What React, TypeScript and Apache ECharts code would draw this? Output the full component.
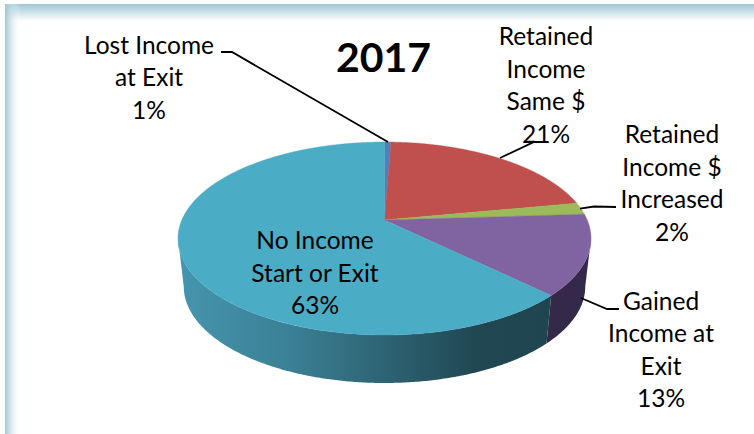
import React, { useEffect, useRef } from "react";
import * as echarts from "echarts";

const names = ["Lost Income\nat Exit", "Retained\nIncome\nSame $", "Retained\nIncome $\nIncreased", "Gained\nIncome at\nExit", "No Income\nStart or Exit"];
const values = [0.6, 21.4, 2, 13.4, 62.6];
const percentLabels = ["1%", "21%", "2%", "13%", "63%"];
const topColors = ["#4F81BD", "#C0504D", "#9BBB59", "#8064A2", "#4BACC6"];
const titleText = "2017";

// label anchors (centre x, first-line centre y) and leader polylines
const labelAnchors = [[149, 44], [546, 35.5], [672, 133.5], [661, 300], [315, 239.5]];
const leaders = [
  [[221, 52], [232, 52], [388, 142]],
  [[548, 142], [534, 142], [500, 158]],
  [[616, 207], [594, 206.5], [580, 208.6]],
  [[619, 309], [607, 309], [581, 298]],
];

const HUB_X = 384.5, HUB_Y = 220, K = 0.1917, A = 202.7, B = 92.95;
const DEPTH = 48, SHRINK = 0.972;
const LINE_H = 32.5;

const project = (deg: number) => {
  const t = (deg * Math.PI) / 180;
  const u = Math.sin(t), v = Math.cos(t);
  const d = 1 + K * v;
  return [HUB_X + (A * u) / d, HUB_Y - (B * v) / d];
};
const lower = (p: number[]) => [HUB_X + (p[0] - HUB_X) * SHRINK, p[1] + DEPTH];
const arc = (a: number, b: number) => {
  const pts: number[][] = [];
  const n = Math.max(2, Math.ceil(Math.abs(b - a) * 2));
  for (let i = 0; i <= n; i++) pts.push(project(a + ((b - a) * i) / n));
  return pts;
};

const total = values.reduce((s, v) => s + v, 0);
let acc = 0;
const spans = values.map((v) => {
  const s = (acc / total) * 360;
  acc += v;
  return [s, (acc / total) * 360];
});

const WALL_FROM = 101, WALL_TO = 259;
const wallFill: Record<number, any> = {
  3: "#35294A",
  4: {
    type: "linear", x: 0, y: 0, x2: 1, y2: 0,
    colorStops: [
      { offset: 0, color: "#4496AE" },
      { offset: 0.3, color: "#3B8095" },
      { offset: 0.55, color: "#2E6474" },
      { offset: 0.8, color: "#204752" },
      { offset: 1, color: "#1F4550" },
    ],
  },
};

const frameColor = "#9FC7D3";

export default function App() {
  const ref = useRef<HTMLDivElement>(null);
  useEffect(() => {
    const chart = echarts.init(ref.current!, undefined, { renderer: "svg" });
    chart.setOption({
      animation: false,
      backgroundColor: "#fff",
      title: {
        text: titleText, left: 378.5, top: 31, textAlign: "center",
        textStyle: { fontFamily: "Lato", fontWeight: "bold", fontSize: 41, color: "#000" },
      },
      graphic: [
        { type: "rect", z: 0, shape: { x: 5, y: 4, width: 749, height: 17 }, style: { fill: { type: "linear", x: 0, y: 0, x2: 0, y2: 1, colorStops: [{ offset: 0, color: frameColor }, { offset: 1, color: "#fff" }] } } },
        { type: "rect", z: 0, shape: { x: 5, y: 4, width: 16, height: 430 }, style: { fill: { type: "linear", x: 0, y: 0, x2: 1, y2: 0, colorStops: [{ offset: 0, color: frameColor }, { offset: 1, color: "rgba(255,255,255,0)" }] } } },
      ],
      series: [
        {
          type: "custom", coordinateSystem: "none", z: 2, silent: true,
          data: spans.map((s, i) => [s[0], s[1], i]),
          renderItem: (_p: any, api: any) => {
            const i = api.value(2);
            const a = Math.max(api.value(0), WALL_FROM), b = Math.min(api.value(1), WALL_TO);
            if (a >= b) return { type: "group", children: [] };
            const top = arc(a, b);
            const bottom = top.map(lower).reverse();
            return { type: "polygon", shape: { points: [...top, ...bottom] }, style: { fill: wallFill[i] ?? "#333" } };
          },
        },
        {
          type: "custom", coordinateSystem: "none", z: 3, silent: true,
          data: spans.map((s, i) => [s[0], s[1], i]),
          renderItem: (_p: any, api: any) => {
            const i = api.value(2);
            const pts = [[HUB_X, HUB_Y], ...arc(api.value(0), api.value(1))];
            return { type: "polygon", shape: { points: pts }, style: { fill: topColors[i], stroke: topColors[i], lineWidth: 0.4 } };
          },
        },
        {
          type: "custom", coordinateSystem: "none", z: 4, silent: true,
          data: names.map((_, i) => [i]),
          renderItem: (_p: any, api: any) => {
            const i = api.value(0);
            const children: any[] = [];
            if (leaders[i]) children.push({ type: "polyline", shape: { points: leaders[i] }, style: { fill: "none", stroke: "#000", lineWidth: 1.8 } });
            const lines = (names[i] + "\n" + percentLabels[i]).split("\n");
            lines.forEach((t, k) => children.push({
              type: "text",
              style: { text: t, x: labelAnchors[i][0], y: labelAnchors[i][1] + k * LINE_H, align: "center", verticalAlign: "middle", font: "24.5px Lato", fill: "#000" },
            }));
            return { type: "group", children };
          },
        },
      ],
    });
    return () => chart.dispose();
  }, []);
  return <div ref={ref} style={{ position: "fixed", left: 0, top: 0, width: 754, height: 434 }} />;
}
